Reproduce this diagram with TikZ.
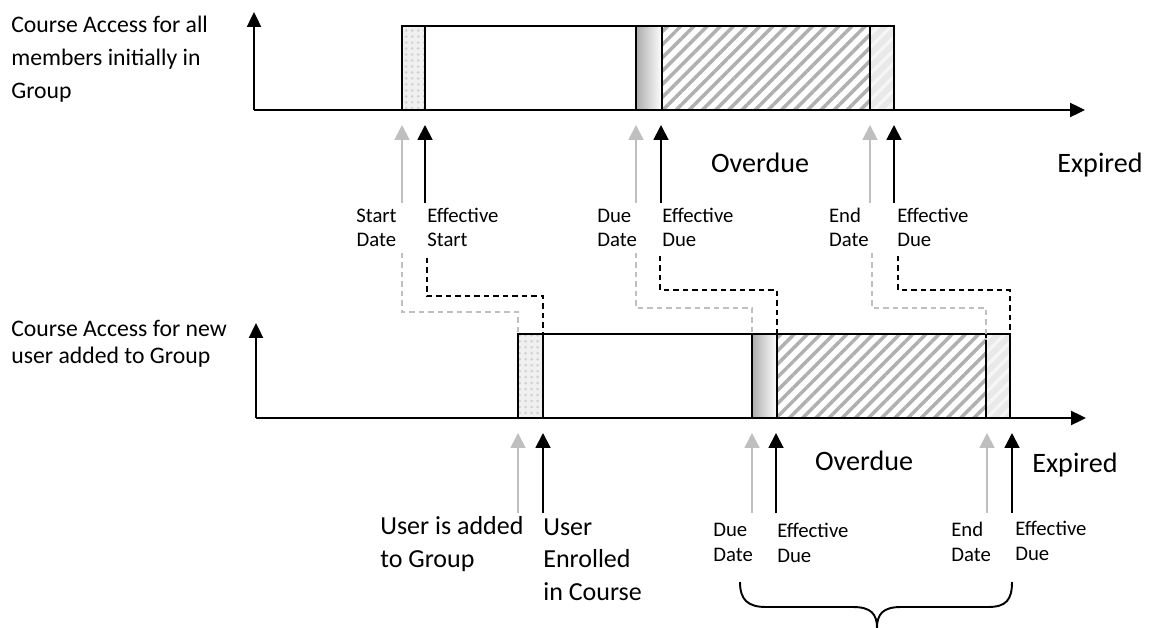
\documentclass[tikz,border=0pt]{standalone}
\usepackage{fontspec}
\setmainfont{Carlito}
\usepackage{tikz}
\usetikzlibrary{patterns, patterns.meta}
\usetikzlibrary{calc}
\usetikzlibrary{arrows.meta, positioning}

\definecolor{planline}{HTML}{BFBFBF}

\tikzset{
  axis/.style={line width=1.1pt, -{Triangle[width=8pt,length=8.5pt]}},
  datearrow/.style={line width=1.1pt, -{Triangle[width=8.5pt,length=8.5pt]}},
  planarrow/.style={datearrow, planline},
  effarrow/.style={datearrow, black},
  planlink/.style={planline, line width=1.1pt, dash pattern=on 3pt off 2.4pt},
  efflink/.style={black, line width=1.1pt, dash pattern=on 3pt off 2.4pt},
  bar/.style={line width=1.1pt},
  smalltext/.style={font=\fontsize{11.8}{14.2}\selectfont, inner sep=0pt, align=left},
  bigtext/.style={font=\fontsize{16}{19}\selectfont, inner sep=0pt},
  usertext/.style={font=\fontsize{14.8}{18.4}\selectfont, inner sep=0pt, align=left},
  grouptext/.style={font=\fontsize{13.5}{18.9}\selectfont, inner sep=0pt, align=left},
  checks/.style={pattern={Dots[distance=3.4pt, radius=0.85pt]}, pattern color=gray!35},
  hatch/.style={pattern={Lines[angle=45,distance=5.3pt,line width=2pt]}, pattern color=gray!62},
  lighthatch/.style={pattern={Lines[angle=45,distance=5.3pt,line width=1.8pt]}, pattern color=gray!7}
}

\begin{document}
\begin{tikzpicture}[x=0.02cm, y=-0.02cm]
	\useasboundingbox (0,0) rectangle (1153,628);

	% Group labels (base = last line)
	\node[grouptext, anchor=base west] (grp-all) at (11,99) {Course Access for all\\members initially in\\Group};
	\node[grouptext, font=\fontsize{13.5}{15.3}\selectfont, anchor=base west] (grp-new) at (11,363) {Course Access for new\\user added to Group};

	% Axes
	\coordinate (o1) at (254,110);
	\coordinate (o2) at (256,418);
	\draw[axis] (o1) -- (254,12);
	\draw[axis] (o1) -- (1085,110);
	\draw[axis] (o2) -- (256,323);
	\draw[axis] (o2) -- (1086,418);

	% Access bar, members initially in group
	\fill[gray!12] (402,26) rectangle (425,110);
	\fill[checks] (402,26) rectangle (425,110);
	\shade[left color=gray!65, right color=white] (636,26) rectangle (662,110);
	\fill[hatch] (662,26) rectangle (870,110);
	\fill[gray!17] (870,26) rectangle (894,110);
	\fill[lighthatch] (870,26) rectangle (894,110);
	\draw[bar] (402,110) rectangle (894,26);
	\draw[bar] (425,26) -- (425,110) (636,26) -- (636,110)
		(662,26) -- (662,110) (870,26) -- (870,110);

	% Access bar, new user
	\coordinate (b-start) at (518,334);
	\coordinate (b-eff) at (543,334);
	\coordinate (b-due) at (752,334);
	\coordinate (b-effdue) at (777,334);
	\coordinate (b-end) at (986,334);
	\coordinate (b-exp) at (1010,334);
	\fill[gray!12] (518,334) rectangle (543,418);
	\fill[checks] (518,334) rectangle (543,418);
	\shade[left color=gray!65, right color=white] (752,334) rectangle (777,418);
	\fill[hatch] (777,334) rectangle (986,418);
	\fill[gray!17] (986,334) rectangle (1010,418);
	\fill[lighthatch] (986,334) rectangle (1010,418);
	\draw[bar] (518,418) rectangle (1010,334);
	\draw[bar] (b-eff) -- (543,418) (b-due) -- (752,418)
		(b-effdue) -- (777,418) (b-end) -- (986,418);

	% Date labels, top
	\node[smalltext, align=center, anchor=base east] (t-sd) at (397,247) {Start\\Date};
	\node[smalltext, anchor=base west] (t-es) at (427,247) {Effective\\Start};
	\node[smalltext, anchor=base west] (t-dd) at (597,247) {Due\\Date};
	\node[smalltext, anchor=base west] (t-ed) at (662,247) {Effective\\Due};
	\node[smalltext, anchor=base east] (t-nd) at (869,247) {End\\Date};
	\node[smalltext, anchor=base west] (t-ee) at (897,247) {Effective\\Due};
	\node[bigtext, anchor=base] (t-over) at (760,173) {Overdue};
	\node[bigtext, anchor=base] (t-exp) at (1100,173) {Expired};

	% Date arrows, top
	\draw[planarrow] (402,203) coordinate (ta1) -- (402,125) coordinate (th1);
	\draw[effarrow] (425,203) coordinate (ta2) -- (425,125) coordinate (th2);
	\draw[planarrow] (636,203) coordinate (ta3) -- (636,125) coordinate (th3);
	\draw[effarrow] (661,203) coordinate (ta4) -- (661,125) coordinate (th4);
	\draw[planarrow] (870,203) coordinate (ta5) -- (870,125) coordinate (th5);
	\draw[effarrow] (894,203) coordinate (ta6) -- (894,125) coordinate (th6);

	% Shifted dates
	\draw[planlink] (402,253) |- ($(b-start)+(0,-22)$) -- (b-start);
	\draw[efflink] (427,258) |- ($(b-eff)+(0,-38)$) -- (b-eff);
	\draw[planlink] (636,253) |- ($(b-due)+(0,-26)$) -- (b-due);
	\draw[efflink] (660,256) |- ($(b-effdue)+(0,-44)$) -- (b-effdue);
	\draw[planlink] (872,253) |- ($(b-end)+(0,-26)$) -- ($(b-end)+(0,6)$);
	\draw[efflink] (898,256) |- ($(b-exp)+(0,-44)$) -- (b-exp);

	% Date labels, bottom
	\node[usertext, anchor=base west] (u-add) at (380,567) {User is added\\to Group};
	\node[usertext, anchor=base west] (u-enr) at (543,600) {User\\Enrolled\\in Course};
	\node[smalltext, anchor=base west] (u-dd) at (713,561) {Due\\Date};
	\node[smalltext, anchor=base west] (u-ed) at (777,562) {Effective\\Due};
	\node[smalltext, anchor=base west] (u-nd) at (951,561) {End\\Date};
	\node[smalltext, anchor=base west] (u-ee) at (1015,560) {Effective\\Due};
	\node[bigtext, anchor=base] (u-over) at (864,470) {Overdue};
	\node[bigtext, anchor=base] (u-exp) at (1075,472) {Expired};

	% Date arrows, bottom
	\draw[planarrow] (518,513) coordinate (ba1) -- (518,433) coordinate (bh1);
	\draw[effarrow] (543,513) coordinate (ba2) -- (543,433) coordinate (bh2);
	\draw[planarrow] (752,513) coordinate (ba3) -- (752,433) coordinate (bh3);
	\draw[effarrow] (776,513) coordinate (ba4) -- (776,433) coordinate (bh4);
	\draw[planarrow] (987,513) coordinate (ba5) -- (987,433) coordinate (bh5);
	\draw[effarrow] (1012,513) coordinate (ba6) -- (1012,433) coordinate (bh6);

	% Brace
	\draw[line width=1.1pt] (740,582) .. controls (740,600) and (748,607) .. (766,607)
		-- (853,607) .. controls (871,607) and (877,614) .. (877,628)
		.. controls (877,614) and (883,607) .. (901,607)
		-- (988,607) .. controls (1006,607) and (1012,600) .. (1012,582);
\end{tikzpicture}
\end{document}
